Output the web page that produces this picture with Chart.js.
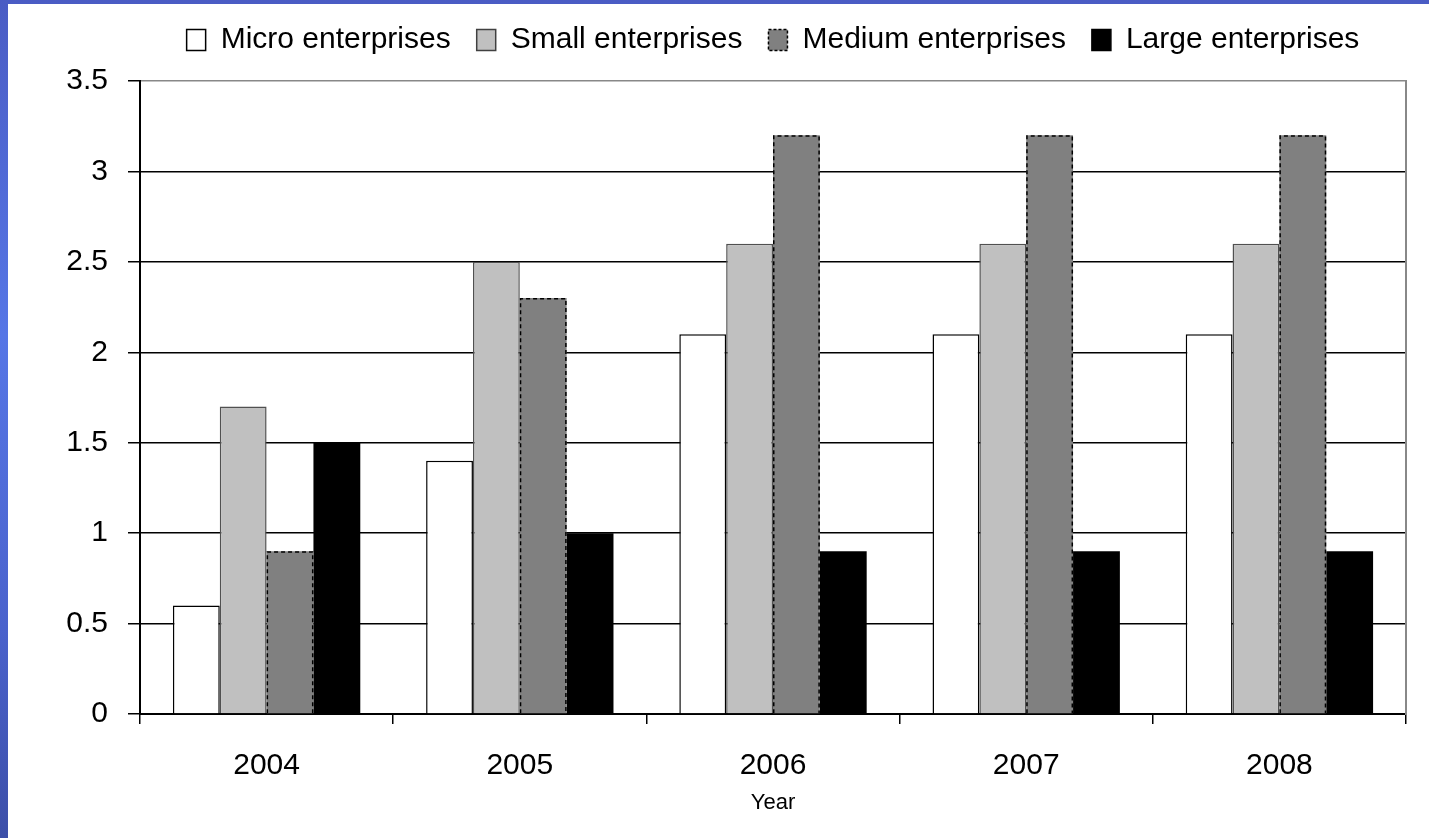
<!DOCTYPE html>
<html>
<head>
<meta charset="utf-8">
<script src="https://cdn.jsdelivr.net/npm/chart.js@4"></script>
<style>
  html, body { margin: 0; padding: 0; }
  body {
    width: 1429px; height: 838px; overflow: hidden;
    background: linear-gradient(180deg, #4a5cc4 0%, #5676e6 40%, #4a62cc 75%, #3c4fa8 100%);
    position: relative;
  }
  #wrap { position: absolute; left: 8px; top: 4px; width: 1421px; height: 834px; background: #fff; }
</style>
</head>
<body>
<div id="wrap"><canvas id="chart" width="1421" height="834"></canvas></div>
<script>
// chart values
const years = ['2004', '2005', '2006', '2007', '2008'];
const micro = [0.6, 1.4, 2.1, 2.1, 2.1];
const small = [1.7, 2.5, 2.6, 2.6, 2.6];
const medium = [0.9, 2.3, 3.2, 3.2, 3.2];
const large = [1.5, 1.0, 0.9, 0.9, 0.9];

const FONT = "'Liberation Sans', Arial, Helvetica, sans-serif";

const ds = (label, data, fill, stroke, width, dashed) => ({
    label: label,
    data: data,
    backgroundColor: fill,
    borderColor: stroke,
    borderWidth: width,
    dashed: dashed,
    borderSkipped: 'start',
    barPercentage: 1,
    categoryPercentage: 0.74
});

// bar borders are filled, not stroked, so draw the dashed outline ourselves
const dashBars = {
    id: 'dashBars',
    afterDatasetDraw(chart, args) {
        const d = chart.data.datasets[args.index];
        if (!d.dashed) return;
        const ctx = chart.ctx;
        ctx.save();
        ctx.strokeStyle = '#000';
        ctx.lineWidth = 1.5;
        ctx.setLineDash([4, 3]);
        args.meta.data.forEach(bar => {
            const p = bar.getProps(['x', 'y', 'base', 'width'], true);
            const l = p.x - p.width / 2 + 0.75, r = p.x + p.width / 2 - 0.75;
            ctx.beginPath();
            ctx.moveTo(l, p.base);
            ctx.lineTo(l, p.y + 0.75);
            ctx.lineTo(r, p.y + 0.75);
            ctx.lineTo(r, p.base);
            ctx.stroke();
        });
        ctx.restore();
    }
};

new Chart(document.getElementById('chart'), {
    type: 'bar',
    data: {
        labels: years,
        datasets: [
            ds('Micro enterprises', micro, '#ffffff', '#000000', 1.5, false),
            ds('Small enterprises', small, '#c0c0c0', '#505050', 1.5, false),
            ds('Medium enterprises', medium, '#808080', '#000000', 0, true),
            ds('Large enterprises', large, '#000000', '#000000', 0, false)
        ]
    },
    options: {
        responsive: false,
        animation: false,
        layout: { padding: { left: 40, right: 0, top: -5, bottom: 22 } },
        plugins: {
            tooltip: { enabled: false },
            // empty title used only as a spacer between legend and plot
            title: {
                display: true,
                text: '',
                weight: 500,
                font: { size: 10 },
                padding: { top: 2, bottom: 2 }
            },
            legend: {
                position: 'top',
                fullSize: false,
                weight: 1000,
                labels: {
                    color: '#000',
                    font: { family: FONT, size: 30 },
                    boxWidth: 19,
                    boxHeight: 21,
                    padding: 26,
                    generateLabels(chart) {
                        return chart.data.datasets.map((d, i) => ({
                            text: d.label,
                            fillStyle: d.backgroundColor,
                            strokeStyle: i === 1 ? '#404040' : '#000',
                            lineWidth: 1.5,
                            lineDash: d.dashed ? [3, 2] : [],
                            datasetIndex: i,
                            hidden: false
                        }));
                    }
                }
            }
        },
        scales: {
            x: {
                afterFit(s) { s.height = 102; },
                grid: {
                    offset: true,
                    drawOnChartArea: false,
                    drawTicks: true,
                    tickLength: 10,
                    color: '#000',
                    lineWidth: 1.5
                },
                border: { color: '#000', width: 2 },
                ticks: { color: '#000', font: { family: FONT, size: 30 }, padding: 24 },
                title: {
                    display: true,
                    text: 'Year',
                    color: '#000',
                    font: { family: FONT, size: 22 },
                    padding: { top: 0, bottom: 0 }
                }
            },
            y: {
                min: 0,
                max: 3.5,
                afterFit(s) { s.width = 92; },
                ticks: {
                    stepSize: 0.5,
                    color: '#000',
                    font: { family: FONT, size: 30 },
                    padding: 20,
                    callback: v => String(v)
                },
                grid: {
                    color: c => c.tick && c.tick.value === 3.5 ? '#888888' : '#000000',
                    lineWidth: 1.5,
                    tickLength: 12,
                    tickColor: '#000'
                },
                border: { color: '#000', width: 2 }
            },
            yRight: {
                position: 'right',
                min: 0,
                max: 3.5,
                afterFit(s) { s.width = 23; },
                ticks: { display: false },
                grid: { display: false },
                border: { color: '#888888', width: 2 }
            }
        }
    },
    plugins: [dashBars]
});
</script>
</body>
</html>
